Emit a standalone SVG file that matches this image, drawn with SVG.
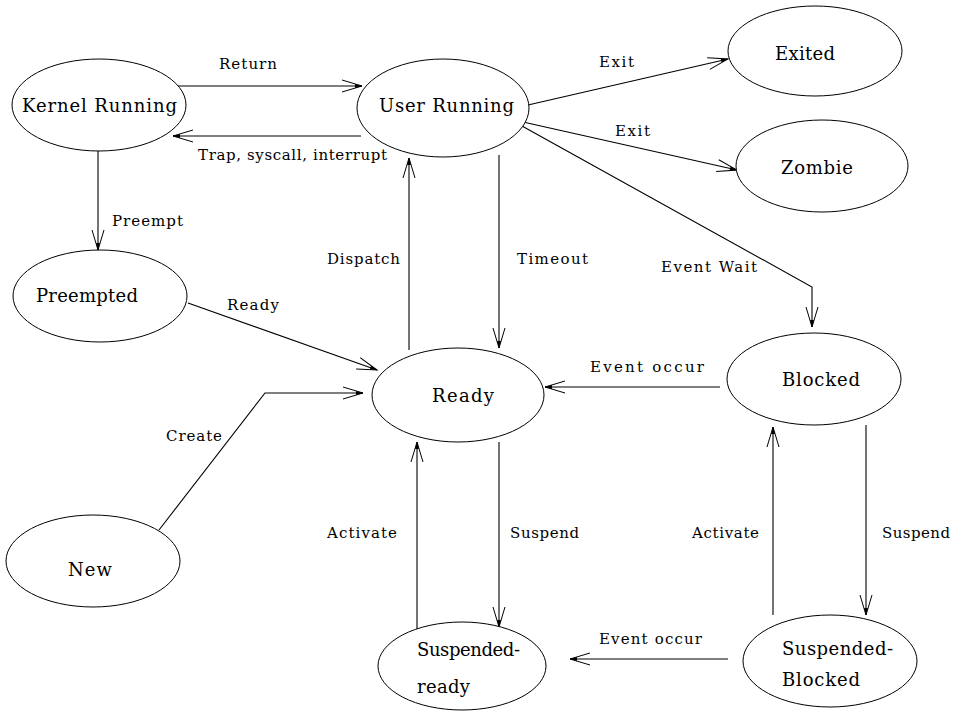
<svg xmlns="http://www.w3.org/2000/svg" width="953" height="712" viewBox="0 0 953 712">
  <style>
    .state ellipse { fill: #fff; stroke: #000; stroke-width: 1; }
    .state text { font-family: 'DejaVu Serif', 'Liberation Serif', serif; font-size: 18px; fill: #000; }
    .edges path { fill: none; stroke: #000; stroke-width: 1.1; marker-end: url(#head); }
    .lbl text { font-family: 'DejaVu Serif', 'Liberation Serif', serif; font-size: 15px; fill: #000; }
  </style>
  <defs>
    <marker id="head" markerUnits="userSpaceOnUse" markerWidth="26" markerHeight="18" refX="22" refY="8" orient="auto" overflow="visible">
      <path d="M2 2 L22 8 L2 14" fill="none" stroke="#000" stroke-width="1"/>
      <path d="M15 6 L22 8 L15 10 Z" fill="#000"/>
    </marker>
  </defs>
  <rect width="953" height="712" fill="#fff"/>

  <!-- transitions -->
  <g id="edges" class="edges">
    <path d="M175 86 L362 86"/>
    <path d="M361 136 L173 136"/>
    <path d="M528 105 L728 59"/>
    <path d="M523 122 L737 170"/>
    <path d="M522 126 L812 287 L812 327"/>
    <path d="M499 155 L499 348"/>
    <path d="M409 350 L409 158"/>
    <path d="M98 151 L98 250"/>
    <path d="M188 303 L377 370"/>
    <path d="M159 530 L265 393 L363 393"/>
    <path d="M720 387 L545 387"/>
    <path d="M417 630 L417 442"/>
    <path d="M499 442 L499 627"/>
    <path d="M773 615 L773 427"/>
    <path d="M866 425 L866 615"/>
    <path d="M728 659 L570 659"/>
  </g>

  <!-- transition labels -->
  <g id="labels" class="lbl">
    <text x="219" y="69" textLength="58" lengthAdjust="spacing">Return</text>
    <text x="198" y="160" textLength="189" lengthAdjust="spacing">Trap, syscall, interrupt</text>
    <text x="599" y="67" textLength="35" lengthAdjust="spacing">Exit</text>
    <text x="615" y="136" textLength="35" lengthAdjust="spacing">Exit</text>
    <text x="112" y="226" textLength="71" lengthAdjust="spacing">Preempt</text>
    <text x="327" y="264" textLength="73" lengthAdjust="spacing">Dispatch</text>
    <text x="517" y="264" textLength="71" lengthAdjust="spacing">Timeout</text>
    <text x="661" y="272" textLength="96" lengthAdjust="spacing">Event Wait</text>
    <text x="227" y="310" textLength="52" lengthAdjust="spacing">Ready</text>
    <text x="590" y="372" textLength="114" lengthAdjust="spacing">Event occur</text>
    <text x="166" y="441" textLength="56" lengthAdjust="spacing">Create</text>
    <text x="327" y="538" textLength="70" lengthAdjust="spacing">Activate</text>
    <text x="510" y="538" textLength="69" lengthAdjust="spacing">Suspend</text>
    <text x="692" y="538" textLength="67" lengthAdjust="spacing">Activate</text>
    <text x="882" y="538" textLength="68" lengthAdjust="spacing">Suspend</text>
    <text x="599" y="644" textLength="103" lengthAdjust="spacing">Event occur</text>
  </g>

  <!-- states -->
  <g id="kernel-running" class="state">
    <ellipse cx="99" cy="105" rx="87" ry="46"/>
    <text x="22" y="112" textLength="155" lengthAdjust="spacing">Kernel Running</text>
  </g>
  <g id="user-running" class="state">
    <ellipse cx="443" cy="108" rx="86" ry="49"/>
    <text x="379" y="112" textLength="135" lengthAdjust="spacing">User Running</text>
  </g>
  <g id="exited" class="state">
    <ellipse cx="815" cy="51" rx="87" ry="45"/>
    <text x="775" y="60" textLength="60" lengthAdjust="spacing">Exited</text>
  </g>
  <g id="zombie" class="state">
    <ellipse cx="822" cy="166" rx="86" ry="46"/>
    <text x="781" y="174" textLength="72" lengthAdjust="spacing">Zombie</text>
  </g>
  <g id="preempted" class="state">
    <ellipse cx="100" cy="296" rx="87" ry="46"/>
    <text x="36" y="302" textLength="102" lengthAdjust="spacing">Preempted</text>
  </g>
  <g id="ready" class="state">
    <ellipse cx="458" cy="395" rx="86" ry="47"/>
    <text x="432" y="402" textLength="62" lengthAdjust="spacing">Ready</text>
  </g>
  <g id="blocked" class="state">
    <ellipse cx="814" cy="379" rx="87" ry="46"/>
    <text x="782" y="386" textLength="78" lengthAdjust="spacing">Blocked</text>
  </g>
  <g id="new" class="state">
    <ellipse cx="93" cy="561" rx="87" ry="46"/>
    <text x="68" y="576" textLength="44" lengthAdjust="spacing">New</text>
  </g>
  <g id="suspended-ready" class="state">
    <ellipse cx="462" cy="666" rx="84" ry="44"/>
    <text x="417" y="656" textLength="103" lengthAdjust="spacing">Suspended-</text>
    <text x="417" y="693" textLength="53" lengthAdjust="spacing">ready</text>
  </g>
  <g id="suspended-blocked" class="state">
    <ellipse cx="830" cy="661" rx="87" ry="46"/>
    <text x="782" y="655" textLength="111" lengthAdjust="spacing">Suspended-</text>
    <text x="782" y="686" textLength="78" lengthAdjust="spacing">Blocked</text>
  </g>
</svg>
